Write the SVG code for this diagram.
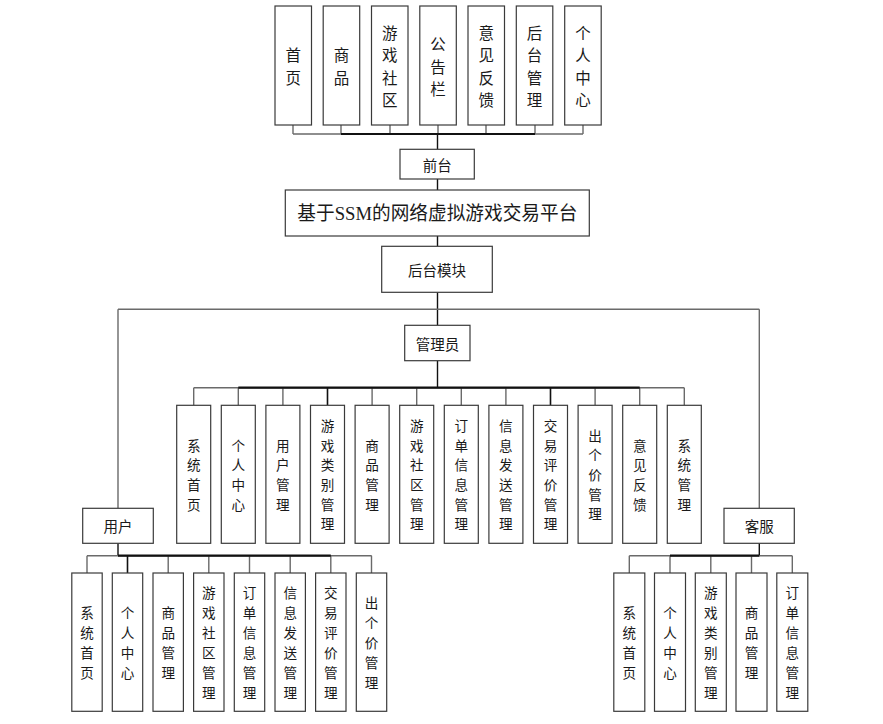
<svg xmlns="http://www.w3.org/2000/svg" width="883" height="724" viewBox="0 0 883 724">
<style>
.bx{fill:#fff;stroke:#3a3a3a;stroke-width:1.2}
.g{fill:none;stroke:#6a6a6a;stroke-width:1.4}
.k{fill:none;stroke:#111;stroke-width:1.4}
.kb{fill:none;stroke:#111;stroke-width:2.2}
.t{font-family:"Noto Sans CJK SC","Microsoft YaHei",sans-serif;fill:#1a1a1a;text-anchor:middle;dominant-baseline:central}
.t17{font-size:15.5px}
.t15{font-size:13.6px}
.t14{font-size:14.5px}
.title{font-family:"Liberation Serif","Noto Sans CJK SC",serif;font-size:19.5px;fill:#1a1a1a;text-anchor:middle;dominant-baseline:central}
</style>
<rect width="883" height="724" fill="#fff"/>
<g id="connectors">
<path class="g" d="M293 125V134M341 125V134M390 125V134M438 125V134M486 125V134M535 125V134M583 125V134M293 134H583"/>
<path class="kb" d="M341 134H535"/>
<path class="k" d="M437.5 134V149.3M437.5 179V190M437.5 236V246.3M437.5 292.3V325.3"/>
<path class="g" d="M118 309.3H759.3M118 309.3V508.3M759.3 309.3V508.3"/>
<path class="k" d="M437.5 360.7V387.7"/>
<path class="g" d="M193.7 387.7H684.3M193.7 387.7V405.3M238.3 387.7V405.3M282.9 387.7V405.3M327.5 387.7V405.3M372.1 387.7V405.3M416.7 387.7V405.3M461.3 387.7V405.3M505.9 387.7V405.3M550.5 387.7V405.3M595.1 387.7V405.3M639.7 387.7V405.3M684.3 387.7V405.3"/>
<path class="kb" d="M238.3 387.7H639.7"/>
<path class="k" d="M327.5 387.7V405.3M550.5 387.7V405.3"/>
<path class="k" d="M118 543.3V555.7M759.3 543.3V555.7"/>
<path class="g" d="M87 555.7H371.7M87 555.7V573M127.5 555.7V573M168.2 555.7V573M208.8 555.7V573M249.5 555.7V573M290.2 555.7V573M330.8 555.7V573M371.5 555.7V573"/>
<path class="kb" d="M118 555.7H330.8"/>
<path class="k" d="M127.5 555.7V573"/>
<path class="g" d="M629.3 555.7H792.3M629.3 555.7V573M670 555.7V573M710.8 555.7V573M751.5 555.7V573M792.3 555.7V573"/>
<path class="kb" d="M670 555.7H759.3"/>
</g>
<g id="top-nodes">
<g id="n-shouye"><rect class="bx" x="275" y="6" width="36.5" height="119"/><text class="t t17"><tspan x="293.2" y="54.3">首</tspan><tspan x="293.2" y="76.7">页</tspan></text></g>
<g id="n-shangpin"><rect class="bx" x="323.2" y="6" width="36.5" height="119"/><text class="t t17"><tspan x="341.5" y="54.3">商</tspan><tspan x="341.5" y="76.7">品</tspan></text></g>
<g id="n-shequ"><rect class="bx" x="371.5" y="6" width="36.5" height="119"/><text class="t t17"><tspan x="389.8" y="31.9">游</tspan><tspan x="389.8" y="54.3">戏</tspan><tspan x="389.8" y="76.7">社</tspan><tspan x="389.8" y="99.1">区</tspan></text></g>
<g id="n-gonggao"><rect class="bx" x="419.8" y="6" width="36.5" height="119"/><text class="t t17"><tspan x="438" y="43.1">公</tspan><tspan x="438" y="65.5">告</tspan><tspan x="438" y="87.9">栏</tspan></text></g>
<g id="n-yijian"><rect class="bx" x="468" y="6" width="36.5" height="119"/><text class="t t17"><tspan x="486.3" y="31.9">意</tspan><tspan x="486.3" y="54.3">见</tspan><tspan x="486.3" y="76.7">反</tspan><tspan x="486.3" y="99.1">馈</tspan></text></g>
<g id="n-houtaiguanli"><rect class="bx" x="516.3" y="6" width="36.5" height="119"/><text class="t t17"><tspan x="534.6" y="31.9">后</tspan><tspan x="534.6" y="54.3">台</tspan><tspan x="534.6" y="76.7">管</tspan><tspan x="534.6" y="99.1">理</tspan></text></g>
<g id="n-geren"><rect class="bx" x="564.7" y="6" width="36.5" height="119"/><text class="t t17"><tspan x="583" y="31.9">个</tspan><tspan x="583" y="54.3">人</tspan><tspan x="583" y="76.7">中</tspan><tspan x="583" y="99.1">心</tspan></text></g>
</g>
<g id="n-qiantai"><rect class="bx" x="400" y="149.3" width="74.3" height="29.7"/><text class="t t14" x="437.2" y="164.2">前台</text></g>
<g id="n-title"><rect class="bx" x="285.3" y="190" width="304" height="46"/><text class="title" x="437.3" y="213" textLength="280" lengthAdjust="spacingAndGlyphs">基于SSM的网络虚拟游戏交易平台</text></g>
<g id="n-houtai"><rect class="bx" x="381.7" y="246.3" width="110.6" height="46"/><text class="t t14" x="437" y="269.3">后台模块</text></g>
<g id="n-admin"><rect class="bx" x="404.7" y="325.3" width="65.3" height="35.4"/><text class="t t14" x="437.4" y="343">管理员</text></g>
<g id="n-user"><rect class="bx" x="82.7" y="508.3" width="70.6" height="35"/><text class="t t14" x="118" y="525.8">用户</text></g>
<g id="n-service"><rect class="bx" x="724" y="508.3" width="70.3" height="35"/><text class="t t14" x="759.2" y="525.8">客服</text></g>
<g id="admin-nodes">
<g id="a1"><rect class="bx" x="176.7" y="405.3" width="34" height="138"/><text class="t t15"><tspan x="193.7" y="444.5">系</tspan><tspan x="193.7" y="464.2">统</tspan><tspan x="193.7" y="483.9">首</tspan><tspan x="193.7" y="503.6">页</tspan></text></g>
<g id="a2"><rect class="bx" x="221.3" y="405.3" width="34" height="138"/><text class="t t15"><tspan x="238.3" y="444.5">个</tspan><tspan x="238.3" y="464.2">人</tspan><tspan x="238.3" y="483.9">中</tspan><tspan x="238.3" y="503.6">心</tspan></text></g>
<g id="a3"><rect class="bx" x="265.9" y="405.3" width="34" height="138"/><text class="t t15"><tspan x="282.9" y="444.5">用</tspan><tspan x="282.9" y="464.2">户</tspan><tspan x="282.9" y="483.9">管</tspan><tspan x="282.9" y="503.6">理</tspan></text></g>
<g id="a4"><rect class="bx" x="310.5" y="405.3" width="34" height="138"/><text class="t t15"><tspan x="327.5" y="424.8">游</tspan><tspan x="327.5" y="444.5">戏</tspan><tspan x="327.5" y="464.2">类</tspan><tspan x="327.5" y="483.9">别</tspan><tspan x="327.5" y="503.6">管</tspan><tspan x="327.5" y="523.3">理</tspan></text></g>
<g id="a5"><rect class="bx" x="355.1" y="405.3" width="34" height="138"/><text class="t t15"><tspan x="372.1" y="444.5">商</tspan><tspan x="372.1" y="464.2">品</tspan><tspan x="372.1" y="483.9">管</tspan><tspan x="372.1" y="503.6">理</tspan></text></g>
<g id="a6"><rect class="bx" x="399.7" y="405.3" width="34" height="138"/><text class="t t15"><tspan x="416.7" y="424.8">游</tspan><tspan x="416.7" y="444.5">戏</tspan><tspan x="416.7" y="464.2">社</tspan><tspan x="416.7" y="483.9">区</tspan><tspan x="416.7" y="503.6">管</tspan><tspan x="416.7" y="523.3">理</tspan></text></g>
<g id="a7"><rect class="bx" x="444.3" y="405.3" width="34" height="138"/><text class="t t15"><tspan x="461.3" y="424.8">订</tspan><tspan x="461.3" y="444.5">单</tspan><tspan x="461.3" y="464.2">信</tspan><tspan x="461.3" y="483.9">息</tspan><tspan x="461.3" y="503.6">管</tspan><tspan x="461.3" y="523.3">理</tspan></text></g>
<g id="a8"><rect class="bx" x="488.9" y="405.3" width="34" height="138"/><text class="t t15"><tspan x="505.9" y="424.8">信</tspan><tspan x="505.9" y="444.5">息</tspan><tspan x="505.9" y="464.2">发</tspan><tspan x="505.9" y="483.9">送</tspan><tspan x="505.9" y="503.6">管</tspan><tspan x="505.9" y="523.3">理</tspan></text></g>
<g id="a9"><rect class="bx" x="533.5" y="405.3" width="34" height="138"/><text class="t t15"><tspan x="550.5" y="424.8">交</tspan><tspan x="550.5" y="444.5">易</tspan><tspan x="550.5" y="464.2">评</tspan><tspan x="550.5" y="483.9">价</tspan><tspan x="550.5" y="503.6">管</tspan><tspan x="550.5" y="523.3">理</tspan></text></g>
<g id="a10"><rect class="bx" x="578.1" y="405.3" width="34" height="138"/><text class="t t15"><tspan x="595.1" y="434.6">出</tspan><tspan x="595.1" y="454.3">个</tspan><tspan x="595.1" y="474">价</tspan><tspan x="595.1" y="493.7">管</tspan><tspan x="595.1" y="513.4">理</tspan></text></g>
<g id="a11"><rect class="bx" x="622.7" y="405.3" width="34" height="138"/><text class="t t15"><tspan x="639.7" y="444.5">意</tspan><tspan x="639.7" y="464.2">见</tspan><tspan x="639.7" y="483.9">反</tspan><tspan x="639.7" y="503.6">馈</tspan></text></g>
<g id="a12"><rect class="bx" x="667.3" y="405.3" width="34" height="138"/><text class="t t15"><tspan x="684.3" y="444.5">系</tspan><tspan x="684.3" y="464.2">统</tspan><tspan x="684.3" y="483.9">管</tspan><tspan x="684.3" y="503.6">理</tspan></text></g>
</g>
<g id="user-nodes">
<g id="u1"><rect class="bx" x="71.8" y="573" width="30.4" height="138.3"/><text class="t t15"><tspan x="87" y="612.2">系</tspan><tspan x="87" y="632.2">统</tspan><tspan x="87" y="652.2">首</tspan><tspan x="87" y="672.2">页</tspan></text></g>
<g id="u2"><rect class="bx" x="112.3" y="573" width="30.4" height="138.3"/><text class="t t15"><tspan x="127.5" y="612.2">个</tspan><tspan x="127.5" y="632.2">人</tspan><tspan x="127.5" y="652.2">中</tspan><tspan x="127.5" y="672.2">心</tspan></text></g>
<g id="u3"><rect class="bx" x="153" y="573" width="30.4" height="138.3"/><text class="t t15"><tspan x="168.2" y="612.2">商</tspan><tspan x="168.2" y="632.2">品</tspan><tspan x="168.2" y="652.2">管</tspan><tspan x="168.2" y="672.2">理</tspan></text></g>
<g id="u4"><rect class="bx" x="193.6" y="573" width="30.4" height="138.3"/><text class="t t15"><tspan x="208.8" y="592.2">游</tspan><tspan x="208.8" y="612.2">戏</tspan><tspan x="208.8" y="632.2">社</tspan><tspan x="208.8" y="652.2">区</tspan><tspan x="208.8" y="672.2">管</tspan><tspan x="208.8" y="692.2">理</tspan></text></g>
<g id="u5"><rect class="bx" x="234.3" y="573" width="30.4" height="138.3"/><text class="t t15"><tspan x="249.5" y="592.2">订</tspan><tspan x="249.5" y="612.2">单</tspan><tspan x="249.5" y="632.2">信</tspan><tspan x="249.5" y="652.2">息</tspan><tspan x="249.5" y="672.2">管</tspan><tspan x="249.5" y="692.2">理</tspan></text></g>
<g id="u6"><rect class="bx" x="275" y="573" width="30.4" height="138.3"/><text class="t t15"><tspan x="290.2" y="592.2">信</tspan><tspan x="290.2" y="612.2">息</tspan><tspan x="290.2" y="632.2">发</tspan><tspan x="290.2" y="652.2">送</tspan><tspan x="290.2" y="672.2">管</tspan><tspan x="290.2" y="692.2">理</tspan></text></g>
<g id="u7"><rect class="bx" x="315.6" y="573" width="30.4" height="138.3"/><text class="t t15"><tspan x="330.8" y="592.2">交</tspan><tspan x="330.8" y="612.2">易</tspan><tspan x="330.8" y="632.2">评</tspan><tspan x="330.8" y="652.2">价</tspan><tspan x="330.8" y="672.2">管</tspan><tspan x="330.8" y="692.2">理</tspan></text></g>
<g id="u8"><rect class="bx" x="356.3" y="573" width="30.4" height="138.3"/><text class="t t15"><tspan x="371.5" y="602.2">出</tspan><tspan x="371.5" y="622.2">个</tspan><tspan x="371.5" y="642.2">价</tspan><tspan x="371.5" y="662.2">管</tspan><tspan x="371.5" y="682.2">理</tspan></text></g>
</g>
<g id="service-nodes">
<g id="s1"><rect class="bx" x="613.8" y="573" width="31" height="138.3"/><text class="t t15"><tspan x="629.3" y="612.2">系</tspan><tspan x="629.3" y="632.2">统</tspan><tspan x="629.3" y="652.2">首</tspan><tspan x="629.3" y="672.2">页</tspan></text></g>
<g id="s2"><rect class="bx" x="654.5" y="573" width="31" height="138.3"/><text class="t t15"><tspan x="670" y="612.2">个</tspan><tspan x="670" y="632.2">人</tspan><tspan x="670" y="652.2">中</tspan><tspan x="670" y="672.2">心</tspan></text></g>
<g id="s3"><rect class="bx" x="695.3" y="573" width="31" height="138.3"/><text class="t t15"><tspan x="710.8" y="592.2">游</tspan><tspan x="710.8" y="612.2">戏</tspan><tspan x="710.8" y="632.2">类</tspan><tspan x="710.8" y="652.2">别</tspan><tspan x="710.8" y="672.2">管</tspan><tspan x="710.8" y="692.2">理</tspan></text></g>
<g id="s4"><rect class="bx" x="736" y="573" width="31" height="138.3"/><text class="t t15"><tspan x="751.5" y="612.2">商</tspan><tspan x="751.5" y="632.2">品</tspan><tspan x="751.5" y="652.2">管</tspan><tspan x="751.5" y="672.2">理</tspan></text></g>
<g id="s5"><rect class="bx" x="776.8" y="573" width="31" height="138.3"/><text class="t t15"><tspan x="792.3" y="592.2">订</tspan><tspan x="792.3" y="612.2">单</tspan><tspan x="792.3" y="632.2">信</tspan><tspan x="792.3" y="652.2">息</tspan><tspan x="792.3" y="672.2">管</tspan><tspan x="792.3" y="692.2">理</tspan></text></g>
</g>
</svg>
